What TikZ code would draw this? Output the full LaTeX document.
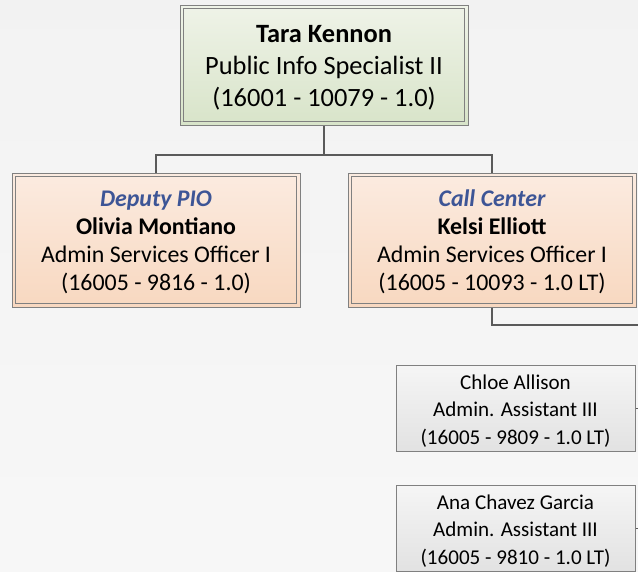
\documentclass[tikz,border=0pt]{standalone}
\usepackage{fontspec}
\setmainfont{Carlito}
\usetikzlibrary{calc}
\definecolor{boxline}{RGB}{128,128,128}
\definecolor{linkline}{RGB}{90,90,90}
\definecolor{greentop}{RGB}{239,243,232}
\definecolor{greenbot}{RGB}{216,228,201}
\definecolor{peachtop}{RGB}{251,235,224}
\definecolor{peachbot}{RGB}{248,216,192}
\definecolor{graytop}{RGB}{245,245,245}
\definecolor{graybot}{RGB}{226,226,226}
\definecolor{unitblue}{RGB}{61,85,150}

\begin{document}
\begin{tikzpicture}[x=0.75pt,y=0.75pt,yscale=-1,xscale=1,
    headbox/.style={draw=boxline,line width=0.75pt,top color=greentop,bottom color=greenbot,minimum width=216pt,minimum height=90pt,inner sep=0pt,text height=65pt,align=center,font=\fontsize{19.8}{24}\selectfont},
    unitbox/.style={draw=boxline,line width=0.75pt,top color=peachtop,bottom color=peachbot,minimum width=216pt,minimum height=100.5pt,inner sep=0pt,text height=78.5pt,align=center,font=\fontsize{17.9}{21}\selectfont},
    staffbox/.style={draw=boxline,line width=0.75pt,top color=graytop,bottom color=graybot,minimum width=179.25pt,minimum height=64.5pt,inner sep=0pt,text height=56pt,align=center,font=\fontsize{15.8}{20.6}\selectfont},
    innerframe/.style={draw=boxline,line width=0.75pt},
    link/.style={draw=linkline,line width=0.9pt}
  ]
    %set diagram at 638 x 571
    \useasboundingbox (0,0) rectangle (638,571);
    \fill[top color=black!5,bottom color=black!3] (0,0) rectangle (638,571);

    % Head
    \node[headbox] (tara) at (324,65) {\textbf{Tara Kennon}\\Public Info Specialist II\\(16001 - 10079 - 1.0)};
    \draw[innerframe] ($(tara.north west)+(4,4)$) rectangle ($(tara.south east)+(-4,-4)$);

    % Units
    \node[unitbox] (olivia) at (156,240) {{\color{unitblue}\bfseries\itshape Deputy PIO}\\\textbf{Olivia Montiano}\\Admin Services Officer I\\(16005 - 9816 - 1.0)};
    \draw[innerframe] ($(olivia.north west)+(4,4)$) rectangle ($(olivia.south east)+(-4,-4)$);
    \node[unitbox] (kelsi) at (492,240) {{\color{unitblue}\bfseries\itshape Call Center}\\\textbf{Kelsi Elliott}\\Admin Services Officer I\\(16005 - 10093 - 1.0 LT)};
    \draw[innerframe] ($(kelsi.north west)+(4,4)$) rectangle ($(kelsi.south east)+(-4,-4)$);

    % Staff
    \node[staffbox] (chloe) at (515.5,408.5) {Chloe Allison\\Admin. Assistant III\\(16005 - 9809 - 1.0 LT)};
    \node[staffbox] (ana) at (515.5,528.5) {Ana Chavez Garcia\\Admin. Assistant III\\(16005 - 9810 - 1.0 LT)};

    % Connectors
    \coordinate (split) at (324,155);
    \coordinate (kelsiout) at (638,325);
    \coordinate (chloeout) at (638,408.5);
    \coordinate (anaout) at (638,528.5);
    \draw[link] (tara.south) -- (split);
    \draw[link] (olivia.north) |- (split) -| (kelsi.north);
    \draw[link] (kelsi.south) |- (kelsiout);
    \draw[link] (chloe.east) -- (chloeout);
    \draw[link] (ana.east) -- (anaout);
\end{tikzpicture}
\end{document}
